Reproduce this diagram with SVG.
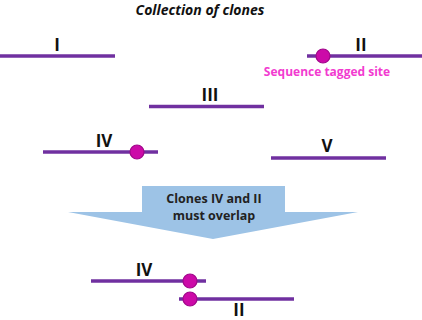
<svg xmlns="http://www.w3.org/2000/svg" width="422" height="320" viewBox="0 0 422 320">
<defs>
<style>
.clone{stroke:#7030A0;stroke-width:3.5;fill:none}
.sts{fill:#CC0AA8;stroke:#A0088A;stroke-width:1.2}
.lbl{font-family:"Open Sans","Liberation Sans",sans-serif;font-weight:bold;font-size:17px;fill:#111;text-anchor:middle}
.title{font-family:"Open Sans","Liberation Sans",sans-serif;font-weight:bold;font-style:italic;font-size:14px;fill:#111;text-anchor:middle}
.pink{font-family:"Open Sans","Liberation Sans",sans-serif;font-weight:bold;font-size:12px;fill:#F23BD0;text-anchor:middle}
.arrtxt{font-family:"Open Sans","Liberation Sans",sans-serif;font-weight:bold;font-size:12.5px;fill:#222;text-anchor:middle}
</style>
</defs>
<rect width="422" height="320" fill="#fff"/>
<text class="title" x="200" y="15">Collection of clones</text>
<g id="clone-I"><line class="clone" x1="0" y1="56" x2="115" y2="56"/><text class="lbl" x="57" y="51">I</text></g>
<g id="clone-II"><line class="clone" x1="307" y1="56" x2="422" y2="56"/><circle class="sts" cx="323" cy="56" r="7"/><text class="lbl" x="361" y="51">II</text><text class="pink" x="327" y="76">Sequence tagged site</text></g>
<g id="clone-III"><line class="clone" x1="149" y1="106.5" x2="264" y2="106.5"/><text class="lbl" x="210" y="101">III</text></g>
<g id="clone-IV"><line class="clone" x1="43" y1="152" x2="158" y2="152"/><circle class="sts" cx="137" cy="152" r="7"/><text class="lbl" x="104" y="147">IV</text></g>
<g id="clone-V"><line class="clone" x1="271" y1="158" x2="386" y2="158"/><text class="lbl" x="327" y="152">V</text></g>
<g id="arrow"><polygon points="142,186 285,186 285,212 358,212 213,239 68,212 142,212" fill="#9DC3E6"/><text class="arrtxt" x="214" y="203">Clones IV and II</text><text class="arrtxt" x="214" y="220">must overlap</text></g>
<g id="overlap-IV"><line class="clone" x1="91" y1="281" x2="206" y2="281"/><circle class="sts" cx="190" cy="281" r="7"/><text class="lbl" x="144" y="276">IV</text></g>
<g id="overlap-II"><line class="clone" x1="179" y1="299" x2="294" y2="299"/><circle class="sts" cx="190" cy="299" r="7"/><text class="lbl" x="239" y="316">II</text></g>
<g id="connectors"></g>
</svg>
